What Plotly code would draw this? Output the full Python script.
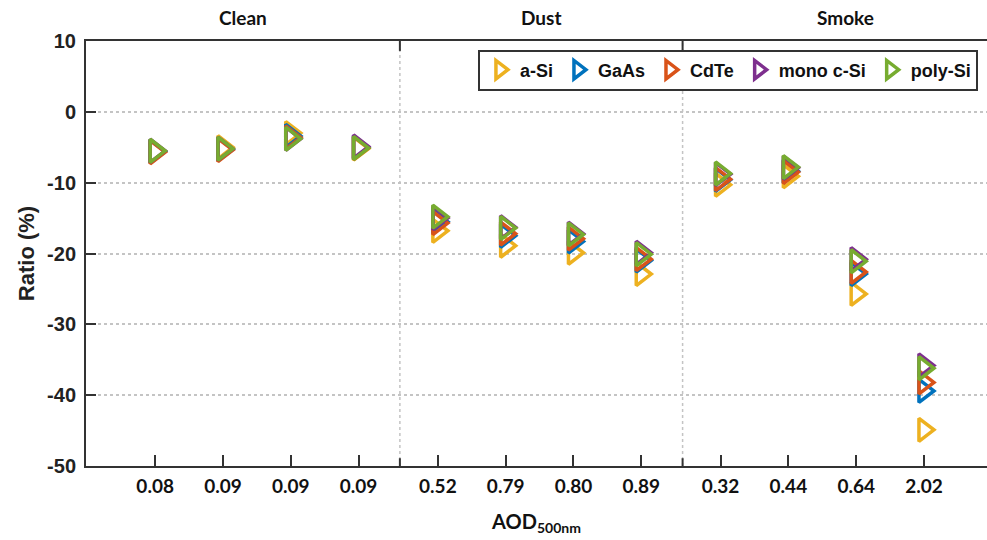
import plotly.graph_objects as go

# ---- data ----
groups = ["Clean", "Dust", "Smoke"]
tick_labels = ["0.08", "0.09", "0.09", "0.09",
               "0.52", "0.79", "0.80", "0.89",
               "0.32", "0.44", "0.64", "2.02"]
a_si = [-5.6, -5.0, -3.0, -5.2, -16.8, -18.9, -19.9, -22.9, -10.3, -9.1, -25.7, -44.9]
gaas = [-5.6, -5.3, -3.4, -5.0, -15.5, -17.5, -18.3, -21.0, -9.6, -8.4, -22.9, -39.4]
cdte = [-5.7, -5.4, -3.6, -5.1, -15.7, -17.2, -17.9, -20.8, -9.5, -8.5, -22.6, -38.2]
mono = [-5.5, -5.2, -3.8, -4.9, -15.0, -16.3, -17.2, -19.9, -8.8, -7.9, -20.8, -35.8]
poly = [-5.5, -5.2, -3.8, -5.1, -14.8, -16.4, -17.3, -20.1, -8.7, -7.8, -21.1, -36.2]
series_names = ["a-Si", "GaAs", "CdTe", "mono c-Si", "poly-Si"]
y_ticks = [10, 0, -10, -20, -30, -40, -50]
y_tick_text = ["10", "0", "-10", "-20", "-30", "-40", "-50"]

# ---- styles ----
colors = ["#EDB120", "#0072BD", "#D95319", "#7E2F8E", "#77AC30"]
per_group = 4
group_start = [1 + g * 4.17 for g in range(len(groups))]
xpos = [group_start[k // per_group] + (k % per_group) for k in range(len(tick_labels))]
separators = [group_start[g] - 0.56 for g in range(1, len(groups))]
x_range = [-0.02, 13.27]
axis_col = "#333333"

fig = go.Figure()
for name, vals, c in zip(series_names, [a_si, gaas, cdte, mono, poly], colors):
    fig.add_trace(go.Scatter(
        x=xpos, y=vals, mode="markers", name=name,
        marker=dict(symbol="triangle-right-open", size=20, color=c,
                    line=dict(width=3.5)),
    ))

shapes = []
for s in separators:
    shapes.append(dict(type="line", xref="x", yref="y", x0=s, x1=s, y0=-50, y1=10,
                       line=dict(color="#c4c4c4", width=1.5, dash="dot"), layer="below"))
    shapes.append(dict(type="line", xref="x", yref="y", x0=s, x1=s, y0=-50, y1=-48.9,
                       line=dict(color=axis_col, width=2)))
    shapes.append(dict(type="line", xref="x", yref="y", x0=s, x1=s, y0=10, y1=8.6,
                       line=dict(color=axis_col, width=2)))

bounds = [x_range[0]] + separators + [13.6]
annotations = []
for g, name in enumerate(groups):
    annotations.append(dict(x=(bounds[g] + bounds[g + 1]) / 2, y=1.056, xref="x", yref="paper",
                            text=name, showarrow=False, yanchor="middle",
                            font=dict(family="Lato, Arial", size=19, color="#111", weight="bold")))

fig.update_layout(
    width=987, height=540,
    margin=dict(l=86, r=0, t=41, b=74),
    plot_bgcolor="white", paper_bgcolor="white",
    shapes=shapes, annotations=annotations,
    showlegend=True,
    legend=dict(orientation="h", x=0.435, y=0.98, xanchor="left", yanchor="top",
                bordercolor=axis_col, borderwidth=2, bgcolor="white",
                font=dict(family="Liberation Sans, Arial", size=18, color="#111", weight="bold"),
                itemwidth=30, tracegroupgap=0),
    xaxis=dict(range=x_range, tickvals=xpos, ticktext=tick_labels,
               showgrid=False, zeroline=False,
               showline=True, linecolor=axis_col, linewidth=2, mirror=True,
               ticks="inside", ticklen=11, tickwidth=2, tickcolor=axis_col,
               tickfont=dict(family="Lato, Arial", size=19, color="#111", weight="bold"),
               ticklabelstandoff=2,
               title=dict(text="AOD<sub>500nm</sub>", standoff=19,
                          font=dict(family="Lato, Arial", size=20, color="#111", weight="bold"))),
    yaxis=dict(range=[-50, 10], tickvals=y_ticks, ticktext=y_tick_text,
               showgrid=True, gridcolor="#c4c4c4", gridwidth=1.5, griddash="dot",
               zeroline=False,
               showline=True, linecolor=axis_col, linewidth=2,
               ticks="inside", ticklen=10, tickwidth=2, tickcolor=axis_col,
               tickfont=dict(family="Liberation Sans, Arial", size=20, color="#222", weight="bold"),
               ticklabelstandoff=4,
               title=dict(text="Ratio (%)", standoff=6,
                          font=dict(family="Liberation Sans, Arial", size=22, color="#222", weight="bold"))),
)

fig.write_html("out.html")
